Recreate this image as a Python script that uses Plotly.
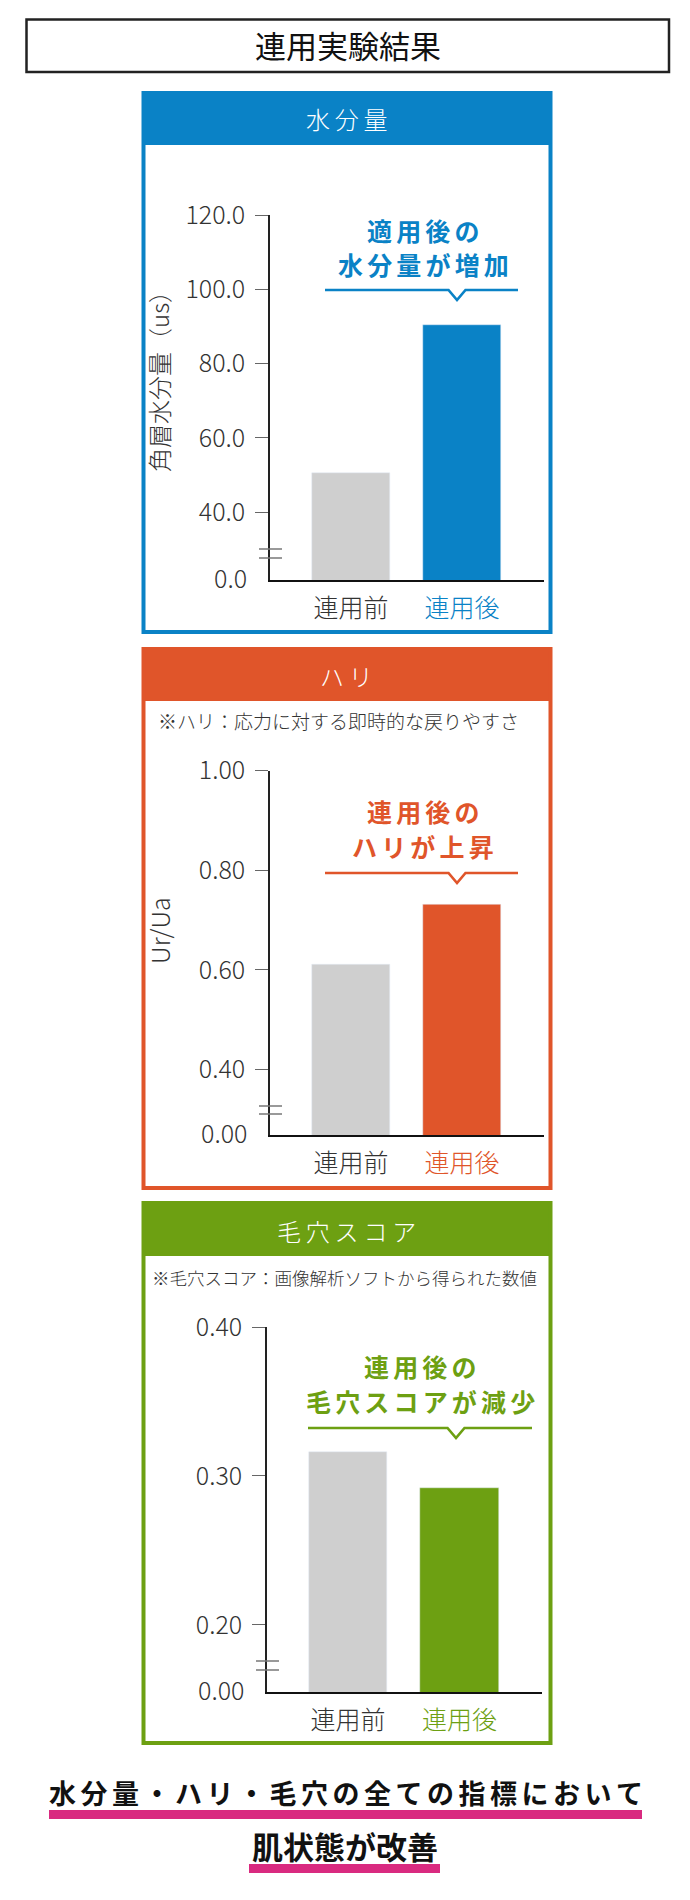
import plotly.graph_objects as go

W, H = 690, 1900
FONT = "Noto Sans CJK JP"
THIN = "\u2009"
SIXTH = "\u2006"

# データ
categories = ["連用前", "連用後"]

moisture_values = [50.4, 90.5]
moisture_ticks = [40, 60, 80, 100, 120]
moisture_ticktext = ["40.0", "60.0", "80.0", "100.0", "120.0"]

firmness_values = [0.611, 0.731]
firmness_ticks = [0.4, 0.6, 0.8, 1.0]
firmness_ticktext = ["0.40", "0.60", "0.80", "1.00"]

pore_values = [0.316, 0.292]
pore_ticks = [0.2, 0.3, 0.4]
pore_ticktext = ["0.20", "0.30", "0.40"]

BLUE = "#0a82c6"
ORANGE = "#e0552a"
GREEN = "#6da012"
GRAY_BAR = "#cfcfcf"
MAGENTA = "#d92a80"
TEXT = "#333333"


def px(x):
    return x / W


def py(y):
    return 1 - y / H


def spaced(s, sep):
    return sep.join(s)


def label(text, x, y, size, color=TEXT, weight="normal", **kw):
    d = dict(text=text, xref="paper", yref="paper", x=px(x), y=py(y),
             xanchor="center", yanchor="middle", showarrow=False,
             font=dict(size=size, color=color, family=FONT, weight=weight))
    d.update(kw)
    return d


panels = [
    dict(values=moisture_values, ticks=moisture_ticks, ticktext=moisture_ticktext,
         zero_text="0.0", floor=21.7, top=120, color=BLUE,
         title="水分量", note=None, ytitle="角層水分量（us）", ytitle_size=24, ytitle_y=376,
         callout=["適用後の", "水分量が増加"],
         box=(143.5, 93, 550.5, 632), header=145, header_y=119,
         plot=(270, 544, 215, 580), xrange=[-0.730, 1.739], breaks=(549, 558),
         call_y=(230, 264), call_x=423, under=(325, 518, 290, 457)),
    dict(values=firmness_values, ticks=firmness_ticks, ticktext=firmness_ticktext,
         zero_text="0.00", floor=0.269, top=1.0, color=ORANGE,
         title="ハリ", note="※ハリ：応力に対する即時的な戻りやすさ", note_x=156, note_y=720,
         note_size=19, ytitle="Ur/Ua", ytitle_size=25, ytitle_y=931,
         callout=["連用後の", "ハリが上昇"],
         box=(143.5, 649, 550.5, 1188), header=701, header_y=675,
         plot=(270, 544, 770.5, 1135), xrange=[-0.730, 1.739], breaks=(1106, 1114),
         call_y=(811, 846), call_x=423, under=(325, 518, 873, 457)),
    dict(values=pore_values, ticks=pore_ticks, ticktext=pore_ticktext,
         zero_text="0.00", floor=0.155, top=0.4, color=GREEN,
         title="毛穴スコア", note="※毛穴スコア：画像解析ソフトから得られた数値", note_x=150, note_y=1277,
         note_size=17.5, ytitle=None,
         callout=["連用後の", "毛穴スコアが減少"],
         box=(143.5, 1203, 550.5, 1743), header=1256, header_y=1230,
         plot=(267, 542, 1327, 1692), xrange=[-0.726, 1.740], breaks=(1661, 1670),
         call_y=(1366, 1401), call_x=420, under=(308, 532, 1428, 456)),
]

fig = go.Figure()
shapes = []
annotations = []

# タイトルボックス
shapes.append(dict(type="rect", xref="paper", yref="paper",
                   x0=px(26.5), x1=px(669), y0=py(19.5), y1=py(72),
                   line=dict(color="#222222", width=2.5)))
annotations.append(label("連用実験結果", 348, 45, 31, color="#111111"))

for i, p in enumerate(panels):
    n = "" if i == 0 else str(i + 1)
    xa, ya = "x" + n, "y" + n
    c = p["color"]
    bx0, by0, bx1, by1 = p["box"]
    x0, x1, ytop, ybase = p["plot"]

    fig.add_trace(go.Bar(
        x=categories, y=p["values"], marker_color=[GRAY_BAR, c],
        width=0.70, xaxis=xa, yaxis=ya, showlegend=False, hoverinfo="skip"))

    fig.update_layout({
        "xaxis" + n: dict(
            domain=[px(x0), px(x1)], anchor=ya, type="category", range=p["xrange"],
            showline=True, linecolor="#111111", linewidth=2, ticks="",
            tickmode="array", tickvals=categories,
            ticktext=[categories[0], f"<span style='color:{c}'>{categories[1]}</span>"],
            tickfont=dict(size=25, color=TEXT, family=FONT, weight=300),
            ticklabelstandoff=5, automargin=False,
            showgrid=False, zeroline=False, fixedrange=True),
        "yaxis" + n: dict(
            domain=[py(ybase), py(ytop)], anchor=xa, range=[p["floor"], p["top"]],
            showline=True, linecolor="#222222", linewidth=1.5,
            ticks="outside", ticklen=13, tickcolor="#666666", tickwidth=1.2,
            tickmode="array", tickvals=p["ticks"], ticktext=p["ticktext"],
            tickfont=dict(size=25, color=TEXT, family=FONT, weight=300),
            ticklabelstandoff=5, automargin=False,
            showgrid=False, zeroline=False, fixedrange=True),
    })

    # 枠とヘッダー
    shapes.append(dict(type="rect", xref="paper", yref="paper",
                       x0=px(bx0), x1=px(bx1), y0=py(by0), y1=py(p["header"]),
                       fillcolor=c, line=dict(width=0), layer="below"))
    shapes.append(dict(type="rect", xref="paper", yref="paper",
                       x0=px(bx0), x1=px(bx1), y0=py(by0), y1=py(by1),
                       line=dict(color=c, width=4)))
    annotations.append(label(spaced(p["title"], THIN), 347, p["header_y"], 24,
                             color="white", weight=300))
    if p["note"]:
        annotations.append(label(p["note"], p["note_x"], p["note_y"], p["note_size"],
                                 weight=300, xanchor="left"))
    if p["ytitle"]:
        annotations.append(label(p["ytitle"], 159, p["ytitle_y"], p["ytitle_size"],
                                 weight=300, textangle=-90))

    # 原点ラベル（省略軸）
    annotations.append(dict(text=p["zero_text"], xref="paper", yref=ya,
                            x=px(x0 - 21), y=p["floor"], xanchor="right",
                            yanchor="middle", yshift=3, showarrow=False,
                            font=dict(size=25, color=TEXT, family=FONT, weight=300)))
    for yb in p["breaks"]:
        shapes.append(dict(type="line", xref="paper", yref="paper",
                           x0=px(x0 - 11), x1=px(x0 + 12), y0=py(yb), y1=py(yb),
                           line=dict(color="#777777", width=1.5)))

    # 吹き出し
    for line_text, ly in zip(p["callout"], p["call_y"]):
        annotations.append(label(spaced(line_text, SIXTH), p["call_x"], ly, 25,
                                 color=c, weight="bold"))
    ux0, ux1, uy, nx = p["under"]
    path = (f"M{px(ux0)},{py(uy)} L{px(nx - 8.5)},{py(uy)} L{px(nx)},{py(uy + 10)} "
            f"L{px(nx + 8.5)},{py(uy)} L{px(ux1)},{py(uy)}")
    shapes.append(dict(type="path", xref="paper", yref="paper", path=path,
                       line=dict(color=c, width=2.7)))

# まとめ
summary = ["水分量・ハリ・毛穴の全ての指標において", "肌状態が改善"]
summary_sep = [SIXTH, ""]
summary_size = [27, 31]
summary_y = [1792, 1845]
summary_under = [(49, 642, 1810, 1819), (249, 440, 1864, 1873)]
for s, sep, size, sy, (ux0, ux1, uy0, uy1) in zip(summary, summary_sep, summary_size,
                                                  summary_y, summary_under):
    annotations.append(label(spaced(s, sep), (ux0 + ux1) / 2, sy, size,
                             color="#111111", weight="bold"))
    shapes.append(dict(type="rect", xref="paper", yref="paper",
                       x0=px(ux0), x1=px(ux1), y0=py(uy1), y1=py(uy0),
                       fillcolor=MAGENTA, line=dict(width=0)))

fig.update_layout(
    width=W, height=H,
    margin=dict(l=0, r=0, t=0, b=0, autoexpand=False),
    paper_bgcolor="white", plot_bgcolor="white",
    font=dict(family=FONT, color=TEXT),
    shapes=shapes, annotations=annotations,
    bargap=0, showlegend=False,
)

fig.write_html("out.html", config={"displayModeBar": False},
               post_script="document.body.style.margin='0px';")
